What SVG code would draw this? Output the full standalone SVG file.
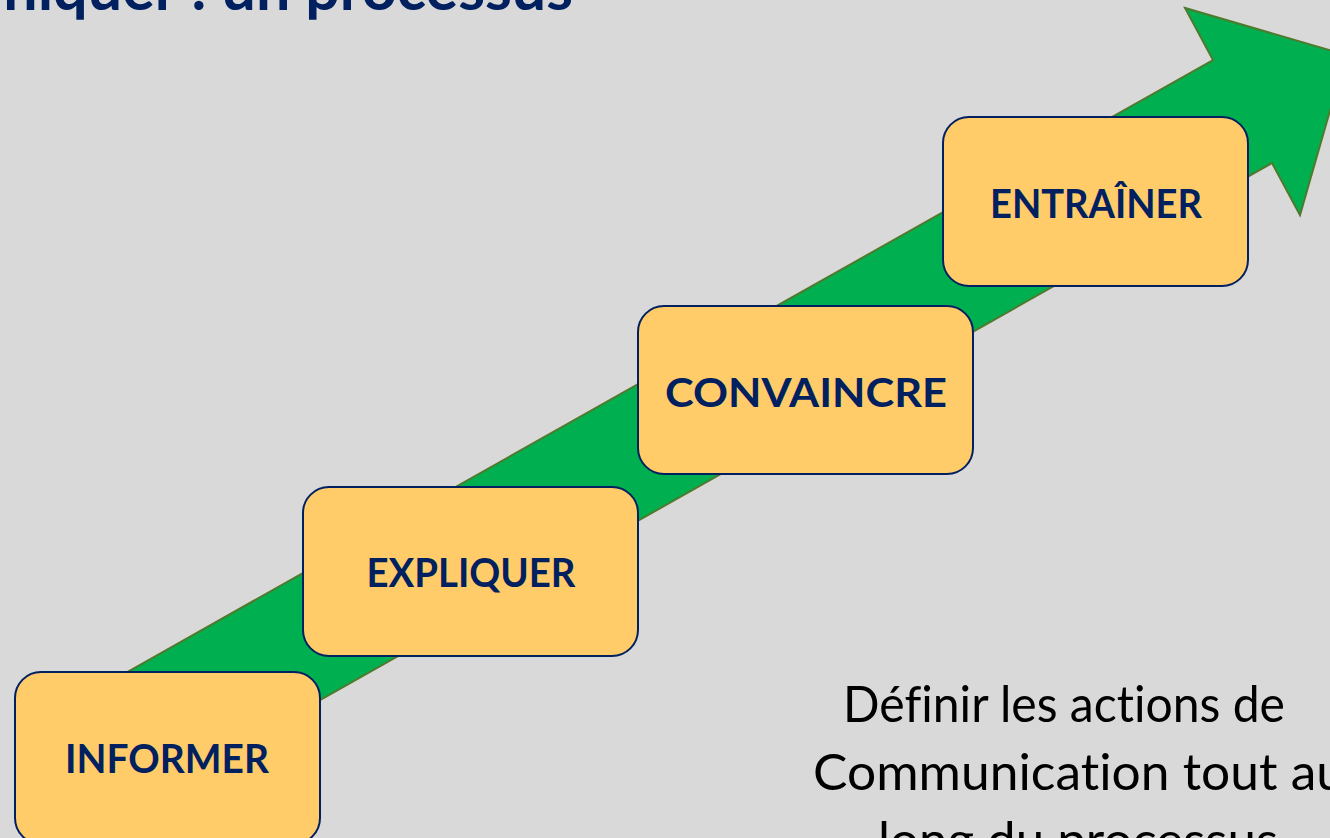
<svg xmlns="http://www.w3.org/2000/svg" width="1330" height="838" viewBox="0 0 1330 838">
  <style>
    text { font-variant-ligatures: none; font-feature-settings: "liga" 0, "clig" 0; }
    .box { fill: #FFCC69; stroke: #002060; stroke-width: 2; }
    .lbl { font-family: Lato, "Open Sans", sans-serif; font-weight: 700; font-size: 41px; fill: #002060; }
    .body { font-family: Lato, "Liberation Sans", sans-serif; font-size: 50px; fill: #000000; }
    .title { font-family: Lato, "Open Sans", sans-serif; font-weight: 700; font-size: 61px; fill: #002060; }
  </style>
  <rect x="0" y="0" width="1330" height="838" fill="#D9D9D9"/>
  <text class="title" x="573" y="10" text-anchor="end">Communiquer : un processus</text>

  <g id="connectors">
    <polygon points="60,710 1213,60 1185,8 1346,55 1300,215 1272,163 120,813" fill="#00B050" stroke="#4F7A2E" stroke-width="2" stroke-linejoin="miter"/>
  </g>

  <g id="informer">
    <rect class="box" x="15" y="672" width="305" height="172" rx="26"/>
    <text class="lbl" x="167" y="773" text-anchor="middle" textLength="204" lengthAdjust="spacingAndGlyphs">INFORMER</text>
  </g>
  <g id="expliquer">
    <rect class="box" x="303" y="487" width="335" height="169" rx="26"/>
    <text class="lbl" x="471" y="587" text-anchor="middle" textLength="209" lengthAdjust="spacingAndGlyphs">EXPLIQUER</text>
  </g>
  <g id="convaincre">
    <rect class="box" x="638" y="306" width="335" height="168" rx="26"/>
    <text class="lbl" x="806" y="407" text-anchor="middle" textLength="282" lengthAdjust="spacingAndGlyphs">CONVAINCRE</text>
  </g>
  <g id="entrainer">
    <rect class="box" x="943" y="117" width="305" height="169" rx="26"/>
    <text class="lbl" x="1096" y="218" text-anchor="middle" textLength="212" lengthAdjust="spacingAndGlyphs">ENTRAÎNER</text>
  </g>

  <g id="note">
    <text class="body" x="843" y="722" textLength="442" lengthAdjust="spacingAndGlyphs">Définir les actions de</text>
    <text class="body" x="813" y="790" textLength="532" lengthAdjust="spacingAndGlyphs">Communication tout au</text>
    <text class="body" x="878" y="858" textLength="400" lengthAdjust="spacingAndGlyphs">long du processus</text>
  </g>
</svg>
